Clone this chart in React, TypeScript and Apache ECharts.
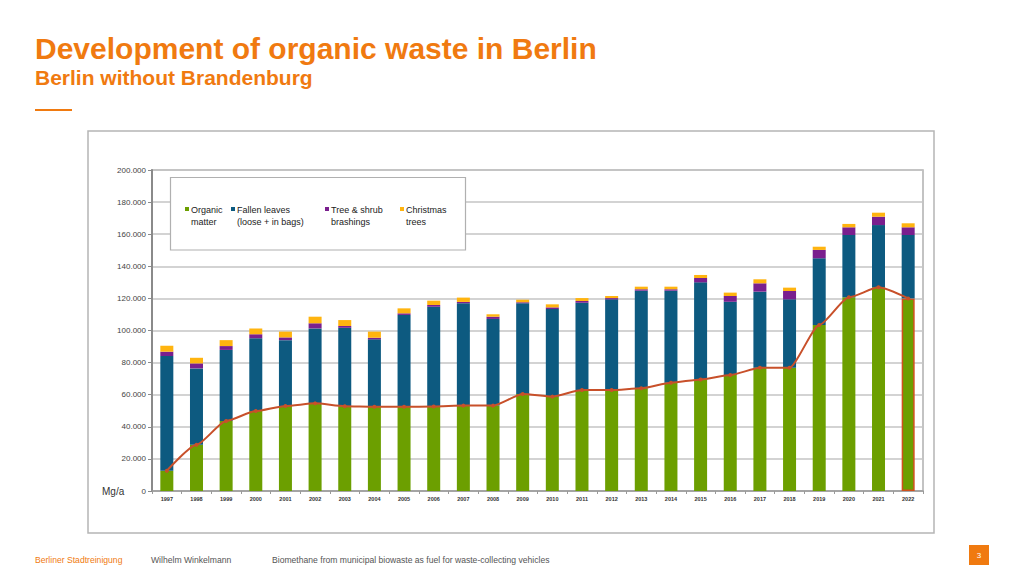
import React, { useEffect, useRef } from "react";
import * as echarts from "echarts";

const years = ["1997","1998","1999","2000","2001","2002","2003","2004","2005","2006","2007","2008","2009","2010","2011","2012","2013","2014","2015","2016","2017","2018","2019","2020","2021","2022"];
const organicMatter = [12600,28800,43600,49800,53000,54600,52800,52500,52500,52600,53200,53200,60400,58800,62900,62900,64000,67500,69500,72300,76800,76800,103400,120700,126900,120000];
const fallenLeaves = [71500,47600,44300,45300,41000,46700,48900,42000,57200,62200,63800,54000,56600,54600,54400,56500,60800,57300,60500,45600,47400,42600,41600,38800,38800,39500];
const brashings = [2700,3100,2400,2500,1700,3200,1100,1000,1000,1100,800,1400,600,1000,1100,800,900,900,2700,3600,5200,5200,5200,4800,5200,4800];
const christmasTrees = [3700,3500,3700,3700,3600,4100,3700,3800,3100,2700,2700,1500,1600,1900,1800,1300,1600,1600,1900,2100,2500,2100,2000,2100,2500,2500];
const legendLines = [["Organic", "matter"], ["Fallen leaves", "(loose + in bags)"], ["Tree & shrub", "brashings"], ["Christmas", "trees"]];
const seriesNames = ["Organic matter", "Fallen leaves (loose + in bags)", "Tree & shrub brashings", "Christmas trees"];
const yTicks = { min: 0, max: 200000, interval: 20000 };

const COLORS = ["#6c9f00", "#0d5a80", "#7a1f8e", "#ffb40f"];
const ORANGE = "#f07a10";
const FONT = "'Liberation Sans', Arial, sans-serif";

const fmt = (v: number) => String(v).replace(/\B(?=(\d{3})+(?!\d))/g, ".");

export default function App() {
  const ref = useRef<HTMLDivElement>(null);
  useEffect(() => {
    if (!ref.current) return;
    const chart = echarts.init(ref.current, null, { renderer: "svg" });
    const stacks = [organicMatter, fallenLeaves, brashings, christmasTrees];
    const legendX = [185, 231, 325, 400];
    const legendGraphics: any[] = [];
    legendLines.forEach((lines, i) => {
      legendGraphics.push({ type: "rect", z: 20, shape: { x: legendX[i], y: 207, width: 4, height: 4 }, style: { fill: COLORS[i] } });
      legendGraphics.push({ type: "text", z: 20, x: legendX[i] + 6, y: 204, style: { text: lines.join("\n"), font: `9px ${FONT}`, fill: "#222", lineHeight: 12 } });
    });
    chart.setOption({
      animation: false,
      textStyle: { fontFamily: FONT },
      grid: { left: 152, top: 170, width: 771, height: 321, show: true, borderColor: "#b0b0b0", borderWidth: 1.5 },
      xAxis: {
        type: "category",
        data: years,
        axisLine: { lineStyle: { color: "#9a9a9a", width: 1.5 } },
        axisTick: { show: true, alignWithLabel: false, length: 3, lineStyle: { color: "#9a9a9a" } },
        axisLabel: { fontSize: 5.5, fontWeight: "bold", color: "#333", margin: 5 },
      },
      yAxis: {
        type: "value",
        min: yTicks.min,
        max: yTicks.max,
        interval: yTicks.interval,
        axisLine: { show: true, lineStyle: { color: "#8a8a8a", width: 2 } },
        axisTick: { show: true, length: 4, lineStyle: { color: "#8a8a8a" } },
        axisLabel: { fontSize: 8, color: "#444", margin: 6, formatter: (v: number) => fmt(v) },
        splitLine: { lineStyle: { color: "#c4c4c4", width: 1.5 } },
      },
      series: [
        ...stacks.map((d, i) => ({
          type: "bar",
          name: seriesNames[i],
          stack: "total",
          barWidth: 13,
          itemStyle: { color: COLORS[i] },
          data: i === 0
            ? d.map((v, j) => (j === d.length - 1 ? { value: v, itemStyle: { color: COLORS[0], borderColor: "#d0501c", borderWidth: 1.5 } } : v))
            : d,
        })),
        {
          type: "line",
          name: "Organic matter trend",
          data: organicMatter,
          smooth: 0.2,
          smoothMonotone: "x",
          symbol: "circle",
          symbolSize: 4,
          lineStyle: { color: "#c8502a", width: 2 },
          itemStyle: { color: "#c8502a" },
          z: 5,
        },
      ],
      graphic: [
        { type: "text", left: 35, top: 33, style: { text: "Development of organic waste in Berlin", font: `bold 30px ${FONT}`, fill: ORANGE } },
        { type: "text", left: 35, top: 67, style: { text: "Berlin without Brandenburg", font: `bold 21px ${FONT}`, fill: ORANGE } },
        { type: "rect", shape: { x: 35, y: 109, width: 37, height: 2 }, style: { fill: ORANGE } },
        { type: "rect", z: -1, shape: { x: 88, y: 131, width: 846, height: 402 }, style: { fill: "none", stroke: "#b5b5b5", lineWidth: 1.5 } },
        { type: "rect", z: 10, shape: { x: 170.5, y: 177.5, width: 295, height: 72.5 }, style: { fill: "#fff", stroke: "#b0b0b0", lineWidth: 1.2 } },
        ...legendGraphics,
        { type: "text", x: 102, y: 486, style: { text: "Mg/a", font: `10px ${FONT}`, fill: "#333" } },
        { type: "text", x: 35, y: 555, style: { text: "Berliner Stadtreinigung", font: `8.6px ${FONT}`, fill: ORANGE } },
        { type: "text", x: 151, y: 555, style: { text: "Wilhelm Winkelmann", font: `8.6px ${FONT}`, fill: "#555" } },
        { type: "text", x: 272, y: 555, style: { text: "Biomethane from municipal biowaste as fuel for waste-collecting vehicles", font: `8.6px ${FONT}`, fill: "#555" } },
        { type: "rect", shape: { x: 969, y: 545, width: 20, height: 20 }, style: { fill: ORANGE } },
        { type: "text", x: 979, y: 555, style: { text: "3", font: `8px ${FONT}`, fill: "#fff", align: "center", verticalAlign: "middle" } },
      ],
    });
    return () => chart.dispose();
  }, []);
  return <div ref={ref} style={{ position: "fixed", left: 0, top: 0, width: 1024, height: 576, background: "#fff" }} />;
}
